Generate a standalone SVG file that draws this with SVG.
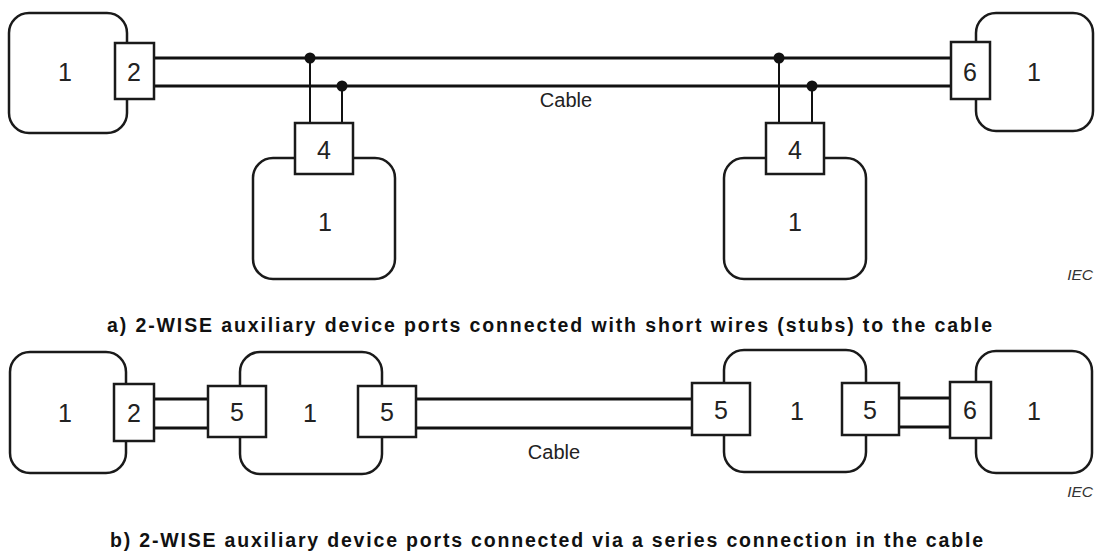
<svg xmlns="http://www.w3.org/2000/svg" width="1095" height="551" viewBox="0 0 1095 551">
<style>
.dev{fill:#fff;stroke:#1a1a1a;stroke-width:2.5}
.port{fill:#fff;stroke:#1a1a1a;stroke-width:2.5}
.num{font-family:"Liberation Sans",Arial,sans-serif;font-size:25px;fill:#222;text-anchor:middle;dominant-baseline:central}
.cable{stroke:#111;stroke-width:3.2;fill:none}
.stub{stroke:#111;stroke-width:2;fill:none}
.lbl{font-family:"Liberation Sans",Arial,sans-serif;font-size:20px;fill:#222;text-anchor:middle}
.iec{font-family:"Liberation Sans",Arial,sans-serif;font-size:15.5px;font-style:italic;fill:#333;text-anchor:end}
.cap{font-family:"Liberation Sans",Arial,sans-serif;font-size:19.5px;font-weight:bold;fill:#111}
</style>
<rect width="1095" height="551" fill="#fff"/>
<g id="connectors">
<line class="cable" x1="154" y1="58" x2="951" y2="58"/>
<line class="cable" x1="154" y1="86" x2="951" y2="86"/>
<line class="stub" x1="310" y1="58" x2="310" y2="123"/>
<line class="stub" x1="342" y1="86" x2="342" y2="123"/>
<line class="stub" x1="779" y1="58" x2="779" y2="123"/>
<line class="stub" x1="812" y1="86" x2="812" y2="123"/>
<circle cx="310" cy="58" r="5.5" fill="#111"/>
<circle cx="342" cy="86" r="5.5" fill="#111"/>
<circle cx="779" cy="58" r="5.5" fill="#111"/>
<circle cx="812" cy="86" r="5.5" fill="#111"/>
<line class="cable" x1="154" y1="399" x2="208" y2="399"/>
<line class="cable" x1="154" y1="428" x2="208" y2="428"/>
<line class="cable" x1="416" y1="399" x2="692" y2="399"/>
<line class="cable" x1="416" y1="428" x2="692" y2="428"/>
<line class="cable" x1="899" y1="398" x2="950" y2="398"/>
<line class="cable" x1="899" y1="427" x2="950" y2="427"/>
</g>
<g id="a-left">
<rect class="dev" x="9" y="13" width="118" height="120" rx="20"/>
<text class="num" x="65" y="72">1</text>
<rect class="port" x="115" y="43" width="39" height="56"/>
<text class="num" x="134" y="72">2</text>
</g>
<g id="a-stub1">
<rect class="dev" x="253" y="158" width="142" height="121" rx="20"/>
<text class="num" x="325" y="222">1</text>
<rect class="port" x="295" y="123" width="58" height="51"/>
<text class="num" x="324" y="150">4</text>
</g>
<g id="a-stub2">
<rect class="dev" x="724" y="158" width="142" height="121" rx="20"/>
<text class="num" x="795" y="222">1</text>
<rect class="port" x="766" y="123" width="58" height="51"/>
<text class="num" x="795" y="150">4</text>
</g>
<g id="a-right">
<rect class="dev" x="976" y="13" width="117" height="118" rx="20"/>
<text class="num" x="1034" y="72">1</text>
<rect class="port" x="951" y="42" width="39" height="57"/>
<text class="num" x="970" y="72">6</text>
</g>
<text class="lbl" x="566" y="107">Cable</text>
<text class="iec" x="1093" y="280">IEC</text>
<text class="cap" x="107" y="332" textLength="885" lengthAdjust="spacing">a) 2-WISE auxiliary device ports connected with short wires (stubs) to the cable</text>
<g id="b-left">
<rect class="dev" x="10" y="352" width="116" height="121" rx="20"/>
<text class="num" x="65" y="413">1</text>
<rect class="port" x="114" y="384" width="40" height="57"/>
<text class="num" x="134" y="413">2</text>
</g>
<g id="b-mid1">
<rect class="dev" x="240" y="352" width="142" height="122" rx="20"/>
<text class="num" x="310" y="413">1</text>
<rect class="port" x="208" y="386" width="58" height="51"/>
<text class="num" x="237" y="412">5</text>
<rect class="port" x="358" y="386" width="58" height="51"/>
<text class="num" x="387" y="412">5</text>
</g>
<g id="b-mid2">
<rect class="dev" x="724" y="350" width="142" height="122" rx="20"/>
<text class="num" x="797" y="411">1</text>
<rect class="port" x="692" y="383" width="58" height="52"/>
<text class="num" x="721" y="410">5</text>
<rect class="port" x="842" y="383" width="57" height="52"/>
<text class="num" x="870" y="410">5</text>
</g>
<g id="b-right">
<rect class="dev" x="976" y="351" width="116" height="122" rx="20"/>
<text class="num" x="1034" y="411">1</text>
<rect class="port" x="950" y="382" width="41" height="56"/>
<text class="num" x="970" y="410">6</text>
</g>
<text class="lbl" x="554" y="459">Cable</text>
<text class="iec" x="1093" y="497">IEC</text>
<text class="cap" x="110" y="547" textLength="873" lengthAdjust="spacing">b) 2-WISE auxiliary device ports connected via a series connection in the cable</text>
</svg>
